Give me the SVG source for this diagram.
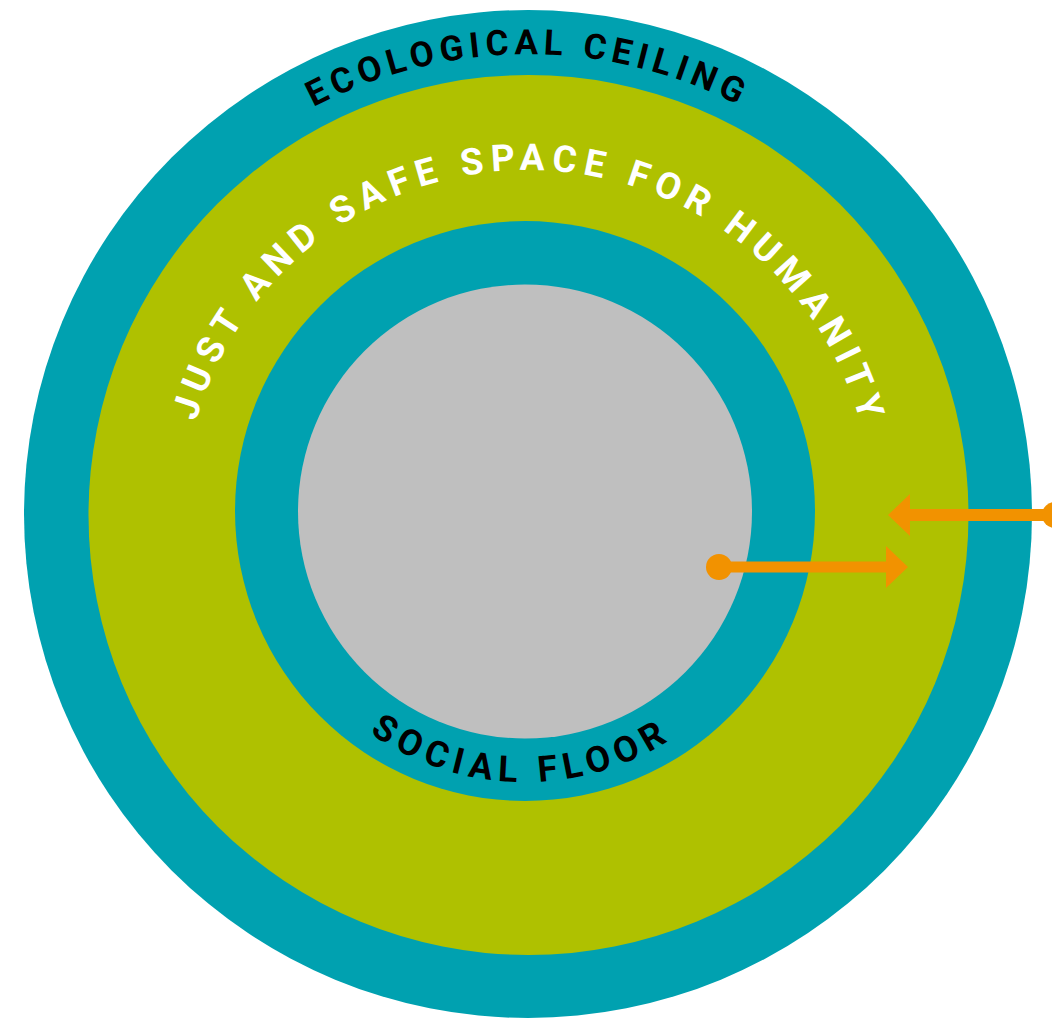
<svg xmlns="http://www.w3.org/2000/svg" width="1052" height="1018" viewBox="0 0 1052 1018">
<style>
.lbl{font-family:Roboto,"Liberation Sans",sans-serif;font-weight:700}
.dark{fill:#000}
.light{fill:#fff}
.arrow{stroke:#F29200;fill:none}
</style>
<defs>
<path id="ecoPath" d="M 68,514 A 460 460 0 0 1 988,514"/>
<path id="justPath" d="M 183,515 A 345 345 0 0 1 873,515"/>
<path id="socPath" d="M 254,511 A 271 271 0 0 0 796,511"/>
<marker id="head" markerUnits="userSpaceOnUse" viewBox="0 -22 23 44" refX="0" refY="0" markerWidth="23" markerHeight="44" orient="auto">
<path d="M0,-21 L22,0 L0,21 Z" fill="#F29200"/>
</marker>
<marker id="dot" markerUnits="userSpaceOnUse" viewBox="-13 -13 26 26" refX="0" refY="0" markerWidth="26" markerHeight="26" orient="auto">
<circle cx="0" cy="0" r="13" fill="#F29200"/>
</marker>
</defs>
<g id="ecological-ceiling">
<circle cx="528" cy="514" r="504" fill="#00A1B0"/>
<text class="lbl dark" font-size="35" letter-spacing="5.5"><textPath href="#ecoPath" startOffset="50%" text-anchor="middle">ECOLOGICAL CEILING</textPath></text>
</g>
<g id="safe-space">
<circle cx="528.5" cy="515" r="440" fill="#AFC100"/>
<text class="lbl light" font-size="37" letter-spacing="7.1"><textPath href="#justPath" startOffset="50.3%" text-anchor="middle">JUST AND SAFE SPACE FOR HUMANITY</textPath></text>
</g>
<g id="social-floor">
<circle cx="525" cy="511" r="290" fill="#00A1B0"/>
<circle cx="525" cy="511.5" r="227" fill="#BFBFBF"/>
<text class="lbl dark" font-size="36" letter-spacing="6.5"><textPath href="#socPath" startOffset="49.5%" text-anchor="middle">SOCIAL FLOOR</textPath></text>
</g>
<g id="connectors">
<line class="arrow" x1="719" y1="567" x2="886" y2="567" stroke-width="11" marker-start="url(#dot)" marker-end="url(#head)"/>
<line class="arrow" x1="1055" y1="515" x2="910" y2="515" stroke-width="12" marker-start="url(#dot)" marker-end="url(#head)"/>
</g>
</svg>
